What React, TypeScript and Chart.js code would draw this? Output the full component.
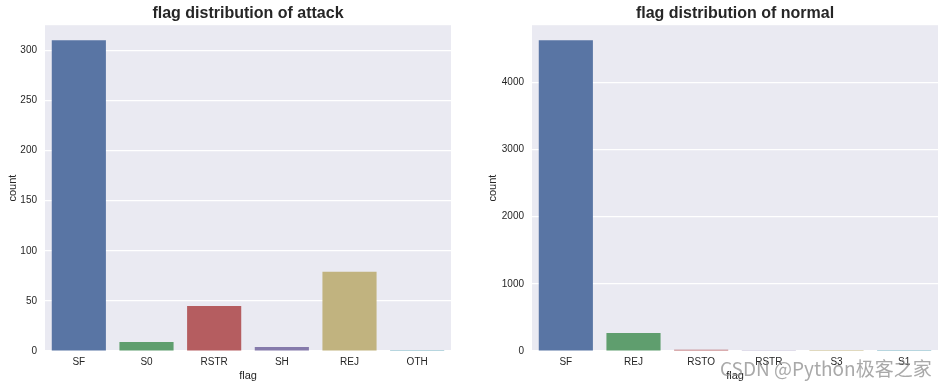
import React, { useEffect, useRef } from "react";
import { Chart, registerables } from "chart.js";

Chart.register(...registerables);

const ATTACK_FLAGS = ["SF", "S0", "RSTR", "SH", "REJ", "OTH"];
const ATTACK_COUNTS = [310, 9, 45, 4, 79, 1];
const ATTACK_TICKS = [0, 50, 100, 150, 200, 250, 300];

const NORMAL_FLAGS = ["SF", "REJ", "RSTO", "RSTR", "S3", "S1"];
const NORMAL_COUNTS = [4630, 268, 17, 2, 1, 1];
const NORMAL_TICKS = [0, 1000, 2000, 3000, 4000];

const PALETTE = ["#5975A4", "#5F9E6E", "#B55D60", "#857AAB", "#C1B37F", "#71AEC0"];

const FONT = "'Liberation Sans', Arial, sans-serif";
const TEXT = "#262626";

const bgPlugin = {
  id: "plotBg",
  beforeDraw(chart: any) {
    const { ctx, chartArea } = chart;
    if (!chartArea) return;
    ctx.save();
    ctx.fillStyle = "#EAEAF2";
    ctx.fillRect(chartArea.left, chartArea.top, chartArea.right - chartArea.left, chartArea.bottom - chartArea.top);
    ctx.restore();
  },
};

function makeConfig(title: string, labels: string[], values: number[], ticks: number[], yMax: number, yAxisWidth: number, padLeft: number) {
  return {
    type: "bar" as const,
    data: {
      labels,
      datasets: [
        {
          data: values,
          backgroundColor: PALETTE,
          borderWidth: 0,
          barPercentage: 0.8,
          categoryPercentage: 1,
        },
      ],
    },
    options: {
      animation: false,
      responsive: false,
      maintainAspectRatio: false,
      layout: { padding: { left: padLeft, right: 6, top: 0, bottom: 0 } },
      plugins: {
        legend: { display: false },
        tooltip: { enabled: false },
        title: {
          display: true,
          text: title,
          fullSize: false,
          color: TEXT,
          font: { family: FONT, size: 16, weight: "bold" },
          padding: { top: 4, bottom: 2 },
        },
      },
      scales: {
        x: {
          grid: { display: false, drawTicks: false },
          border: { display: false },
          ticks: { color: TEXT, font: { family: FONT, size: 10 }, padding: 5, maxRotation: 0 },
          title: { display: true, text: "flag", color: TEXT, font: { family: FONT, size: 11 }, padding: { top: 5, bottom: 5 } },
          afterFit(scale: any) {
            scale.height = 37;
          },
        },
        y: {
          min: 0,
          max: yMax,
          grid: { color: "#FFFFFF", lineWidth: 1.2, drawTicks: false },
          border: { display: false },
          ticks: { color: TEXT, font: { family: FONT, size: 10 }, padding: 8, callback: (v: any) => String(v) },
          title: { display: true, text: "count", color: TEXT, font: { family: FONT, size: 11 }, padding: { top: 6, bottom: 6 } },
          afterBuildTicks(scale: any) {
            scale.ticks = ticks.map((v) => ({ value: v }));
          },
          afterFit(scale: any) {
            scale.width = yAxisWidth;
          },
        },
      },
    },
    plugins: [bgPlugin],
  };
}

function BarChart(props: { left: number; width: number; config: any }) {
  const ref = useRef<HTMLCanvasElement | null>(null);
  useEffect(() => {
    if (!ref.current) return;
    const chart = new Chart(ref.current, props.config);
    return () => chart.destroy();
  }, []);
  return (
    <canvas
      ref={ref}
      width={props.width}
      height={388}
      style={{ position: "absolute", left: props.left, top: 0, width: props.width, height: 388 }}
    />
  );
}

export default function App() {
  const left = makeConfig("flag distribution of attack", ATTACK_FLAGS, ATTACK_COUNTS, ATTACK_TICKS, 325, 45, 0);
  const right = makeConfig("flag distribution of normal", NORMAL_FLAGS, NORMAL_COUNTS, NORMAL_TICKS, 4853, 52, 10);
  return (
    <div style={{ position: "fixed", left: 0, top: 0, width: 944, height: 388, background: "#FFFFFF", overflow: "hidden" }}>
      <BarChart left={0} width={457} config={left} />
      <BarChart left={470} width={474} config={right} />
      <div
        style={{
          position: "absolute",
          left: 720,
          top: 356,
          fontFamily: "'Noto Sans CJK SC', 'Noto Sans', sans-serif",
          fontSize: 19,
          lineHeight: "24px",
          color: "rgba(140,140,140,0.75)",
          whiteSpace: "nowrap",
          pointerEvents: "none",
        }}
      >
        CSDN @Python极客之家
      </div>
    </div>
  );
}
